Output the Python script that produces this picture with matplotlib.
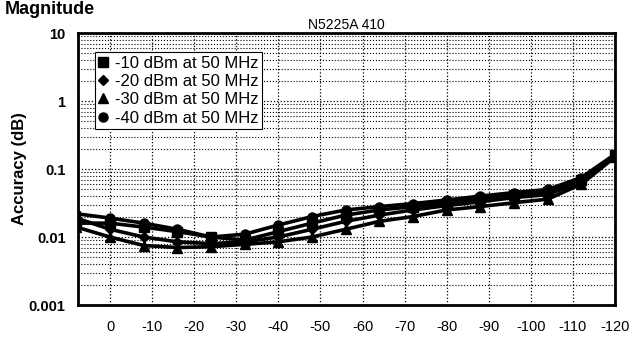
import matplotlib
matplotlib.use('Agg')
import matplotlib.pyplot as plt
from matplotlib.ticker import LogLocator, FixedLocator, NullFormatter
import numpy as np

plt.rcParams['font.family'] = ['Liberation Sans', 'DejaVu Sans']

# input power offset (dB)
power = [8, 0, -8, -16, -24, -32, -40, -48, -56, -64, -72, -80, -88, -96, -104, -112, -120]

acc_m10 = [0.016, 0.016, 0.014, 0.012, 0.010, 0.009, 0.012, 0.016, 0.021, 0.025,
           0.028, 0.032, 0.036, 0.041, 0.046, 0.070, 0.160]
acc_m20 = [0.019, 0.013, 0.010, 0.0085, 0.008, 0.0085, 0.010, 0.013, 0.017, 0.021,
           0.025, 0.029, 0.033, 0.038, 0.042, 0.065, 0.155]
acc_m30 = [0.014, 0.010, 0.0075, 0.007, 0.0072, 0.0078, 0.0085, 0.010, 0.013, 0.017,
           0.020, 0.025, 0.028, 0.032, 0.036, 0.060, 0.150]
acc_m40 = [0.022, 0.019, 0.016, 0.013, 0.010, 0.011, 0.015, 0.020, 0.025, 0.028,
           0.031, 0.035, 0.040, 0.045, 0.050, 0.075, 0.165]

labels = ['-10 dBm at 50 MHz', '-20 dBm at 50 MHz', '-30 dBm at 50 MHz', '-40 dBm at 50 MHz']
markers = ['s', 'D', '^', 'o']
xticks = [0, -10, -20, -30, -40, -50, -60, -70, -80, -90, -100, -110, -120]

fig = plt.figure(figsize=(6.37, 3.38), dpi=100)
ax = fig.add_axes([0.1225, 0.0976, 0.843, 0.8047])

for y, lab, m in zip([acc_m10, acc_m20, acc_m30, acc_m40], labels, markers):
    ax.plot(power, y, color='black', lw=2.6, marker=m, ms=6.5 if m != 'D' else 5.5,
            label=lab)

ax.set_yscale('log')
ax.set_ylim(0.001, 10)
ax.set_xlim(7.6, -120)
ax.xaxis.set_major_locator(FixedLocator(xticks))
ax.set_xticklabels([str(t) for t in xticks])
ax.yaxis.set_minor_locator(LogLocator(base=10, subs=np.arange(2, 10), numticks=20))
ax.yaxis.set_minor_formatter(NullFormatter())
ax.set_yticks([0.001, 0.01, 0.1, 1, 10])
ax.set_yticklabels(['0.001', '0.01', '0.1', '1', '10'])

ax.grid(True, which='major', color='black', ls=':', lw=0.9)
ax.grid(True, which='minor', axis='y', color='black', ls=':', lw=0.8)
ax.tick_params(which='both', length=0)
ax.tick_params(axis='x', pad=11, labelsize=10.5)
ax.tick_params(axis='y', pad=9, labelsize=10.5)
for lab in ax.get_yticklabels():
    lab.set_fontweight('bold')
for s in ax.spines.values():
    s.set_linewidth(2)

ax.set_ylabel('Accuracy (dB)', fontsize=12, fontweight='bold', labelpad=1)
ax.set_title('N5225A 410', fontsize=10, pad=3)
fig.text(0.008, 0.998, 'Magnitude', fontsize=13, fontweight='bold', va='top', ha='left')

leg = ax.legend(loc='upper left', bbox_to_anchor=(0.016, 0.96), fontsize=12,
                frameon=True, fancybox=False, edgecolor='black', framealpha=1,
                handlelength=0.6, handletextpad=0.4, borderpad=0.2, labelspacing=0.2)
for h in leg.legend_handles:
    h.set_linestyle('none')
leg.get_frame().set_linewidth(0.8)

fig.savefig('out.png', dpi=100)
